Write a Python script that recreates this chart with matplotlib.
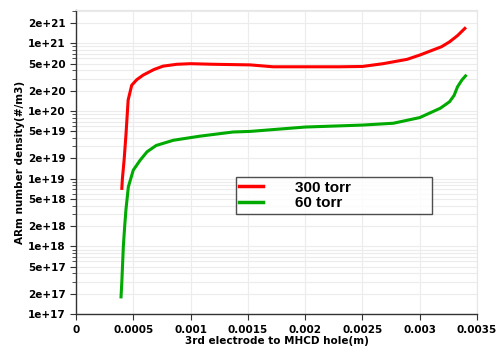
import numpy as np
import matplotlib
matplotlib.use("Agg")
import matplotlib.pyplot as plt
from matplotlib.ticker import LogLocator, FuncFormatter, MultipleLocator

# 300 torr
x_300 = [0.000400, 0.000405, 0.000420, 0.000437, 0.000455, 0.000486, 0.000530,
         0.000587, 0.000680, 0.000760, 0.000880, 0.001000, 0.001200, 0.001520,
         0.001720, 0.002000, 0.002300, 0.002500, 0.002680, 0.002890, 0.003000,
         0.003190, 0.003260, 0.003330, 0.003394]
y_300 = [7.2e18, 1.0e19, 1.9e19, 4.7e19, 1.45e20, 2.4e20, 2.9e20,
         3.4e20, 4.1e20, 4.6e20, 4.9e20, 5.0e20, 4.9e20, 4.8e20,
         4.5e20, 4.5e20, 4.5e20, 4.55e20, 5.0e20, 5.8e20, 6.7e20,
         8.9e20, 1.05e21, 1.3e21, 1.66e21]

# 60 torr
x_60 = [0.000393, 0.000400, 0.000413, 0.000425, 0.000436, 0.000457, 0.000500,
        0.000560, 0.000620, 0.000700, 0.000850, 0.001080, 0.001370, 0.001520,
        0.002000, 0.002500, 0.002770, 0.003000, 0.003180, 0.003260, 0.003300,
        0.003330, 0.003370, 0.003400]
y_60 = [1.8e17, 3.0e17, 9.9e17, 2.0e18, 3.5e18, 7.6e18, 1.34e19,
        1.88e19, 2.5e19, 3.1e19, 3.7e19, 4.25e19, 4.9e19, 5.0e19,
        5.8e19, 6.2e19, 6.6e19, 8.0e19, 1.1e20, 1.37e20, 1.7e20,
        2.28e20, 2.9e20, 3.3e20]

labels = ["300 torr", "60 torr"]

fig = plt.figure(figsize=(5.0, 3.46), dpi=100)
ax = fig.add_axes([0.152, 0.092, 0.802, 0.879])

ax.plot(x_300, y_300, color="#ff0000", lw=2.2, label=labels[0])
ax.plot(x_60, y_60, color="#00aa00", lw=2.2, label=labels[1])

ax.set_yscale("log")
ax.set_xlim(0, 0.0035)
ax.set_ylim(1e17, 3.1e21)

ax.xaxis.set_major_locator(MultipleLocator(0.0005))
ax.xaxis.set_major_formatter(FuncFormatter(lambda v, p: f"{v:g}" if v > 0 else "0"))
ax.yaxis.set_major_locator(LogLocator(base=10, subs=(1, 2, 5)))
ax.yaxis.set_minor_locator(LogLocator(base=10, subs=(3, 4, 6, 7, 8, 9)))


def fmt(v, p):
    e = int(np.floor(np.log10(v) + 1e-9))
    m = int(round(v / 10 ** e))
    return f"{m}e+{e}"


ax.yaxis.set_major_formatter(FuncFormatter(fmt))
ax.yaxis.set_minor_formatter(FuncFormatter(lambda v, p: ""))

ax.grid(True, which="both", color="#ececec", lw=0.8)
ax.set_axisbelow(True)

for s in ["top", "right"]:
    ax.spines[s].set_color("#e6e6e6")
for s in ["left", "bottom"]:
    ax.spines[s].set_color("#333333")
    ax.spines[s].set_linewidth(1.0)

ax.tick_params(axis="both", which="major", labelsize=7.5, length=4, color="#333333")
ax.tick_params(axis="y", which="minor", length=3, color="#333333")
for t in ax.get_xticklabels() + ax.get_yticklabels():
    t.set_fontweight("bold")

ax.set_xlabel("3rd electrode to MHCD hole(m)", fontsize=7.5, fontweight="bold", labelpad=1)
ax.set_ylabel("ARm number density(#/m3)", fontsize=7.5, fontweight="bold", labelpad=2)

# legend box: roughly x 236-432 px, y 178-217 px
leg = ax.legend(loc="upper left", bbox_to_anchor=(0.398, 0.323, 0.49, 0.128),
                mode="expand", frameon=True, fancybox=False, edgecolor="#222222",
                prop={"family": "Liberation Sans", "weight": "bold", "size": 11},
                handlelength=1.55, handletextpad=2.1, borderpad=0.25,
                labelspacing=0.1, borderaxespad=0)
leg.get_frame().set_linewidth(1.0)
for h in leg.legend_handles:
    h.set_linewidth(2.5)

fig.savefig("out.png", dpi=100)
